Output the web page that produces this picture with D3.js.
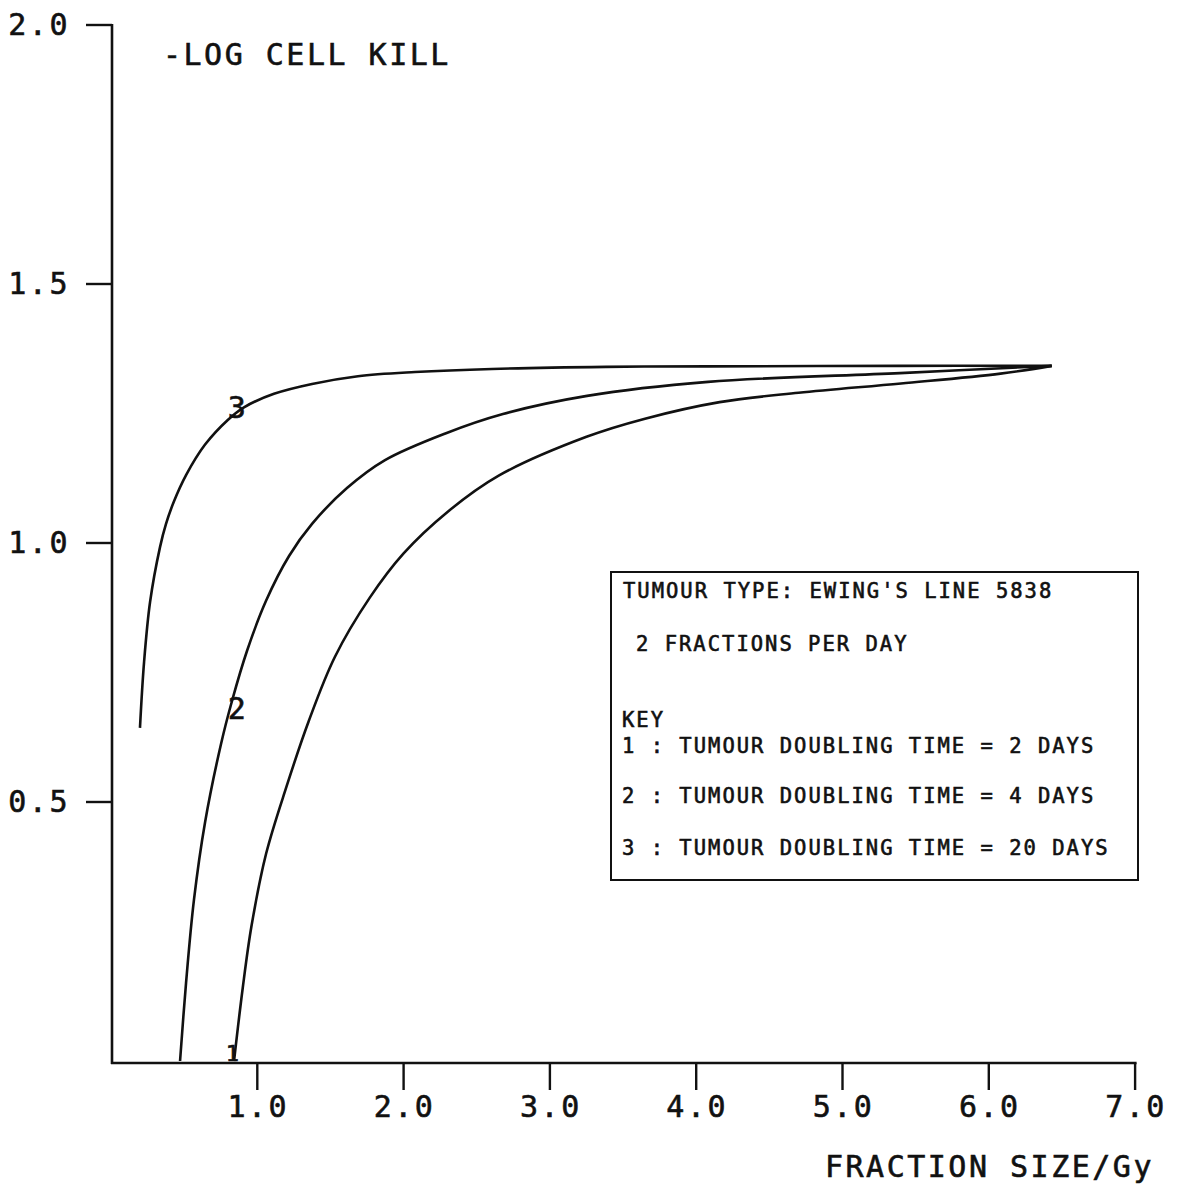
<!DOCTYPE html>
<html>
<head>
<meta charset="utf-8">
<script src="https://cdn.jsdelivr.net/npm/d3@7"></script>
<style>
  body { margin: 0; background: #fff; }
  text { font-family: "DejaVu Sans Mono", "Liberation Mono", monospace; fill: #111; stroke: #111; stroke-width: 0.6; }
</style>
</head>
<body>
<script>
// Data: fraction size (Gy) vs -log cell kill
const dose1 = [0.841, 0.90, 0.96, 1.06, 1.20, 1.35, 1.53, 1.77, 2.00, 2.30, 2.65, 3.25, 3.65, 4.16, 4.70, 5.40, 6.08, 6.43];
const kill1 = [0.000, 0.14, 0.26, 0.40, 0.53, 0.655, 0.78, 0.895, 0.98, 1.06, 1.13, 1.205, 1.24, 1.272, 1.29, 1.308, 1.327, 1.342];

const dose2 = [0.472, 0.513, 0.567, 0.643, 0.752, 0.827, 0.930, 1.059, 1.217, 1.374, 1.613, 1.873, 2.290, 2.679, 3.254, 4.081, 5.393, 6.43];
const kill2 = [0.000, 0.151, 0.311, 0.461, 0.612, 0.695, 0.792, 0.888, 0.975, 1.037, 1.106, 1.160, 1.212, 1.249, 1.284, 1.311, 1.328, 1.342];

const dose3 = [0.198, 0.226, 0.267, 0.335, 0.375, 0.430, 0.513, 0.643, 0.800, 0.909, 1.114, 1.374, 1.688, 2.078, 2.604, 3.383, 4.081, 5.39, 6.43];
const kill3 = [0.643, 0.770, 0.886, 0.992, 1.036, 1.080, 1.131, 1.190, 1.238, 1.262, 1.288, 1.307, 1.322, 1.330, 1.336, 1.340, 1.341, 1.342, 1.342];

const xTicks = [1, 2, 3, 4, 5, 6, 7];
const yTicks = [0.5, 1.0, 1.5, 2.0];

const curveNames = ["1", "2", "3"];
// where each curve number is written (dose, kill)
const labelAt = [[0.83, 0.02], [0.86, 0.68], [0.86, 1.26]];

const keyLines = [
  "TUMOUR TYPE: EWING'S LINE 5838",
  "2 FRACTIONS PER DAY",
  "KEY",
  "1 : TUMOUR DOUBLING TIME = 2 DAYS",
  "2 : TUMOUR DOUBLING TIME = 4 DAYS",
  "3 : TUMOUR DOUBLING TIME = 20 DAYS"
];

const width = 1181, height = 1188;

const x = d3.scaleLinear().domain([0, 7]).range([111, 1135.1]);
const y = d3.scaleLinear().domain([0, 2]).range([1061, 25]);

const svg = d3.select("body").append("svg")
  .attr("width", width)
  .attr("height", height);

const ink = "#111";

// y axis: line plus ticks pointing left
svg.append("line")
  .attr("x1", 112).attr("x2", 112)
  .attr("y1", y(2) - 1).attr("y2", 1064)
  .attr("stroke", ink).attr("stroke-width", 2.6);

svg.selectAll(".ytick")
  .data(yTicks)
  .enter().append("line")
  .attr("x1", 86).attr("x2", 112)
  .attr("y1", d => y(d)).attr("y2", d => y(d))
  .attr("stroke", ink).attr("stroke-width", 2.4);

svg.selectAll(".ylab")
  .data(yTicks)
  .enter().append("text")
  .attr("x", 70)
  .attr("y", d => y(d) + 10)
  .attr("text-anchor", "end")
  .attr("font-size", 30)
  .attr("letter-spacing", 2.5)
  .text(d => d.toFixed(1));

// x axis: line plus ticks pointing down
svg.append("line")
  .attr("x1", 111).attr("x2", x(7) + 1.5)
  .attr("y1", 1063).attr("y2", 1063)
  .attr("stroke", ink).attr("stroke-width", 2.6);

svg.selectAll(".xtick")
  .data(xTicks)
  .enter().append("line")
  .attr("x1", d => x(d)).attr("x2", d => x(d))
  .attr("y1", 1063).attr("y2", 1090)
  .attr("stroke", ink).attr("stroke-width", 2.4);

svg.selectAll(".xlab")
  .data(xTicks)
  .enter().append("text")
  .attr("x", d => x(d) + 1)
  .attr("y", 1117)
  .attr("text-anchor", "middle")
  .attr("font-size", 30)
  .attr("letter-spacing", 2.5)
  .text(d => d.toFixed(1));

// titles
svg.append("text")
  .attr("x", 163).attr("y", 65)
  .attr("font-size", 30)
  .attr("letter-spacing", 2.5)
  .text("-LOG CELL KILL");

svg.append("text")
  .attr("x", 825).attr("y", 1177)
  .attr("font-size", 30)
  .attr("letter-spacing", 2.5)
  .text("FRACTION SIZE/Gy");

// curves
const series = [
  dose1.map((d, i) => [d, kill1[i]]),
  dose2.map((d, i) => [d, kill2[i]]),
  dose3.map((d, i) => [d, kill3[i]])
];

const line = d3.line()
  .x(d => x(d[0]))
  .y(d => y(d[1]))
  .curve(d3.curveCatmullRom.alpha(0.5));

svg.selectAll(".curve")
  .data(series)
  .enter().append("path")
  .attr("d", line)
  .attr("fill", "none")
  .attr("stroke", ink)
  .attr("stroke-width", 2.6)
  .attr("stroke-linejoin", "round");

svg.selectAll(".cname")
  .data(curveNames)
  .enter().append("text")
  .attr("x", (d, i) => x(labelAt[i][0]))
  .attr("y", (d, i) => y(labelAt[i][1]) + 10)
  .attr("text-anchor", "middle")
  .attr("font-size", (d, i) => i === 0 ? 22 : 30)
  .text(d => d);

// key box
svg.append("rect")
  .attr("x", 611).attr("y", 572)
  .attr("width", 527).attr("height", 308)
  .attr("fill", "none")
  .attr("stroke", ink).attr("stroke-width", 2);

const keyY = [598, 651, 727, 753, 803, 855];
const keyX = [623, 636, 622, 622, 622, 622];

svg.selectAll(".key")
  .data(keyLines)
  .enter().append("text")
  .attr("x", (d, i) => keyX[i])
  .attr("y", (d, i) => keyY[i])
  .attr("font-size", 20.5)
  .attr("letter-spacing", 2)
  .text(d => d);
</script>
</body>
</html>
